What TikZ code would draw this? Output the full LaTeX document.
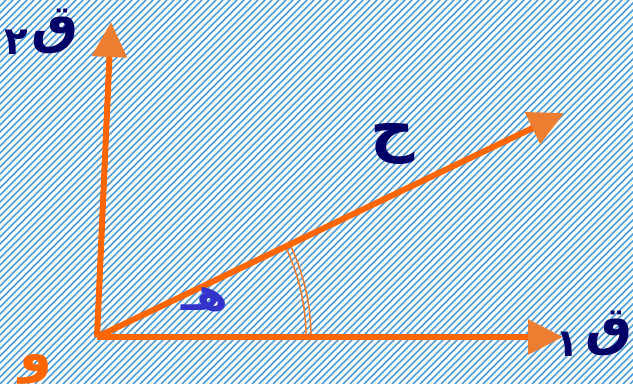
\documentclass[tikz,border=0pt]{standalone}
\usepackage{fontspec}
\usetikzlibrary{arrows.meta,calc}
\newfontfamily\arabicfont[Script=Arabic]{DejaVu Sans}
\TeXXeTstate=1
\definecolor{lineorange}{HTML}{FF6600}
\definecolor{headorange}{HTML}{ED7D31}
\definecolor{labelnavy}{HTML}{000066}
\definecolor{angleblue}{HTML}{3333CC}
\definecolor{stripeblue}{HTML}{4F9BDA}

\begin{document}
\begin{tikzpicture}[
    x=0.02cm, y=0.02cm,
    stripe/.style={stripeblue, line width=0.03cm},
    vec/.style={lineorange, line width=0.12cm,
                -{Triangle[length=0.7cm, width=0.68cm, color=headorange]}},
    anglearc/.style={headorange, line width=0.03cm},
    letter/.style={inner sep=0pt, font=\arabicfont\bfseries\fontsize{30}{30}\selectfont, text=#1},
]

% Background
\useasboundingbox (0,0) rectangle (633,384);
\fill[white] (0,0) rectangle (633,384);
\begin{scope}
  \clip (0,0) rectangle (633,384);
  \foreach \s in {-392,-385,...,640}
    \draw[stripe] (\s,0) -- ++(384,384);
\end{scope}

% Points
\coordinate (O) at (97,47);
\coordinate (q1end) at (563,47);
\coordinate (q2end) at (111,362);
\coordinate (rend) at (564,271);

% Angle
\draw[anglearc] (O) ++(0:209) arc[start angle=0, end angle=25.6, radius=209];
\draw[anglearc] (O) ++(0:214) arc[start angle=0, end angle=25.2, radius=214];

% Vectors
\draw[vec] (O) -- (q1end);
\draw[vec] (O) -- (q2end);
\draw[vec] (O) -- (rend);

% Labels
\node[letter=labelnavy] (q2) at (42,352) {\beginR ق\kern2pt\raisebox{-7pt}{\fontsize{22}{22}\selectfont ٢}\endR};
\node[letter=labelnavy] (q1) at (594,50) {\beginR ق\kern4pt\raisebox{-7pt}{\fontsize{22}{22}\selectfont ١}\endR};
\node[letter=labelnavy, font=\arabicfont\bfseries\fontsize{35}{35}\selectfont] (r) at (393,240) {\beginR ح\endR};
\node[letter=angleblue, font=\arabicfont\bfseries\fontsize{26}{26}\selectfont] (theta) at (205,84) {\beginR هـ\endR};
\node[letter=lineorange] (o) at (36,15) {\beginR و\endR};

\end{tikzpicture}
\end{document}
